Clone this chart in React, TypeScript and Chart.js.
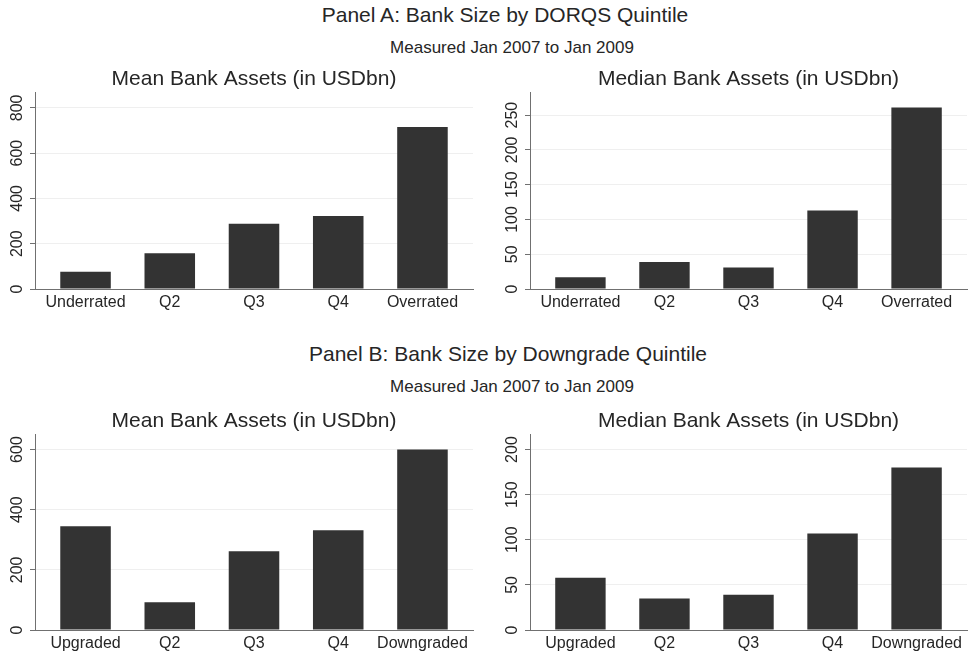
import React, { useEffect, useRef } from 'react';
import { Chart, registerables } from 'chart.js';

Chart.register(...registerables);

const FONT = '"Liberation Sans", Arial, Helvetica, sans-serif';
const TEXT = '#262626';
const AXIS = '#707070';
const GRID = '#efefef';
const BAR = '#333333';

// Category labels
const dorqsGroups = ['Underrated', 'Q2', 'Q3', 'Q4', 'Overrated'];
const downgradeGroups = ['Upgraded', 'Q2', 'Q3', 'Q4', 'Downgraded'];

// Bank assets in USD bn
const dorqsMeanAssets = [76, 158, 288, 322, 715];
const dorqsMedianAssets = [17, 39, 31, 113, 261];
const downgradeMeanAssets = [345, 92, 262, 332, 600];
const downgradeMedianAssets = [58, 35, 39, 107, 180];

// Y tick values
const dorqsMeanTicks = [0, 200, 400, 600, 800];
const dorqsMedianTicks = [0, 50, 100, 150, 200, 250];
const downgradeMeanTicks = [0, 200, 400, 600];
const downgradeMedianTicks = [0, 50, 100, 150, 200];

// Y axis upper limits
const dorqsMeanMax = 869;
const dorqsMedianMax = 283;
const downgradeMeanMax = 651;
const downgradeMedianMax = 217;

const meanTitle = 'Mean Bank Assets (in USDbn)';
const medianTitle = 'Median Bank Assets (in USDbn)';

// Y tick labels drawn vertically, reading bottom to top
const verticalYLabels = {
  id: 'verticalYLabels',
  afterDraw(chart: any) {
    const scale = chart.scales.y;
    const ctx = chart.ctx;
    ctx.save();
    ctx.font = `16px ${FONT}`;
    ctx.fillStyle = TEXT;
    ctx.textAlign = 'center';
    ctx.textBaseline = 'middle';
    for (const t of scale.ticks) {
      const y = scale.getPixelForValue(t.value);
      ctx.save();
      ctx.translate(scale.right - 17, y);
      ctx.rotate(-Math.PI / 2);
      ctx.fillText(String(t.value), 0, 0);
      ctx.restore();
    }
    ctx.restore();
  },
};

type PanelProps = {
  left: number;
  top: number;
  width: number;
  height: number;
  axisWidth: number;
  padRight: number;
  title: string;
  groups: string[];
  values: number[];
  ticks: number[];
  yMax: number;
};

function BarPanel(p: PanelProps) {
  const ref = useRef<HTMLCanvasElement | null>(null);

  useEffect(() => {
    if (!ref.current) return;
    const chart = new Chart(ref.current, {
      type: 'bar',
      data: {
        datasets: [
          {
            data: p.groups.map((_, i) => ({ x: i, y: p.values[i] })),
            backgroundColor: BAR,
            borderWidth: 0,
            barPercentage: 0.6,
            categoryPercentage: 1,
          },
        ],
      },
      options: {
        animation: false,
        responsive: false,
        devicePixelRatio: 1,
        layout: { padding: { left: 0, right: p.padRight, top: 0, bottom: 0 } },
        plugins: {
          legend: { display: false },
          tooltip: { enabled: false },
          title: {
            display: true,
            text: p.title,
            fullSize: false,
            padding: { top: 0, bottom: 0 },
            color: TEXT,
            font: { size: 21, family: FONT, weight: 'normal' },
          },
        },
        scales: {
          x: {
            type: 'linear',
            min: -0.6,
            max: p.groups.length - 1 + 0.6,
            offset: false,
            grid: { display: false, drawTicks: false },
            border: { display: true, color: AXIS, width: 1 },
            ticks: {
              autoSkip: false,
              maxRotation: 0,
              minRotation: 0,
              padding: 4,
              color: TEXT,
              font: { size: 16, family: FONT },
              callback: (v: any) => p.groups[v] ?? '',
            },
            afterBuildTicks: (s: any) => {
              s.ticks = p.groups.map((_, i) => ({ value: i }));
            },
            afterFit: (s: any) => {
              s.height = 26;
            },
          },
          y: {
            type: 'linear',
            min: 0,
            max: p.yMax,
            grid: {
              color: GRID,
              lineWidth: 1,
              drawTicks: true,
              tickLength: 5,
              tickColor: AXIS,
              tickWidth: 1,
            },
            border: { display: true, color: AXIS, width: 1 },
            ticks: { display: false },
            afterBuildTicks: (s: any) => {
              s.ticks = p.ticks.map((v) => ({ value: v }));
            },
            afterFit: (s: any) => {
              s.width = p.axisWidth;
            },
          },
        },
      } as any,
      plugins: [verticalYLabels],
    });
    return () => chart.destroy();
  }, []);

  return (
    <canvas
      ref={ref}
      width={p.width}
      height={p.height}
      style={{ position: 'absolute', left: p.left, top: p.top, width: p.width, height: p.height }}
    />
  );
}

function Heading({ text, top, size, center }: { text: string; top: number; size: number; center: number }) {
  return (
    <div
      style={{
        position: 'absolute',
        left: center - 300,
        width: 600,
        top,
        textAlign: 'center',
        fontFamily: FONT,
        fontSize: size,
        lineHeight: `${size}px`,
        color: TEXT,
        whiteSpace: 'nowrap',
      }}
    >
      {text}
    </div>
  );
}

export default function App() {
  return (
    <div
      style={{
        position: 'absolute',
        left: 0,
        top: 0,
        width: 969,
        height: 656,
        overflow: 'hidden',
        background: '#ffffff',
      }}
    >
      <Heading text="Panel A: Bank Size by DORQS Quintile" top={3.7} size={21} center={505} />
      <Heading text="Measured Jan 2007 to Jan 2009" top={39.3} size={17} center={512} />
      <BarPanel
        left={0}
        top={67}
        width={480}
        height={248}
        axisWidth={35}
        padRight={7}
        title={meanTitle}
        groups={dorqsGroups}
        values={dorqsMeanAssets}
        ticks={dorqsMeanTicks}
        yMax={dorqsMeanMax}
      />
      <BarPanel
        left={480}
        top={67}
        width={489}
        height={248}
        axisWidth={50}
        padRight={2}
        title={medianTitle}
        groups={dorqsGroups}
        values={dorqsMedianAssets}
        ticks={dorqsMedianTicks}
        yMax={dorqsMedianMax}
      />
      <Heading text="Panel B: Bank Size by Downgrade Quintile" top={342.7} size={21} center={508} />
      <Heading text="Measured Jan 2007 to Jan 2009" top={377.7} size={17} center={512} />
      <BarPanel
        left={0}
        top={409}
        width={480}
        height={247}
        axisWidth={35}
        padRight={7}
        title={meanTitle}
        groups={downgradeGroups}
        values={downgradeMeanAssets}
        ticks={downgradeMeanTicks}
        yMax={downgradeMeanMax}
      />
      <BarPanel
        left={480}
        top={409}
        width={489}
        height={247}
        axisWidth={50}
        padRight={2}
        title={medianTitle}
        groups={downgradeGroups}
        values={downgradeMedianAssets}
        ticks={downgradeMedianTicks}
        yMax={downgradeMedianMax}
      />
    </div>
  );
}
